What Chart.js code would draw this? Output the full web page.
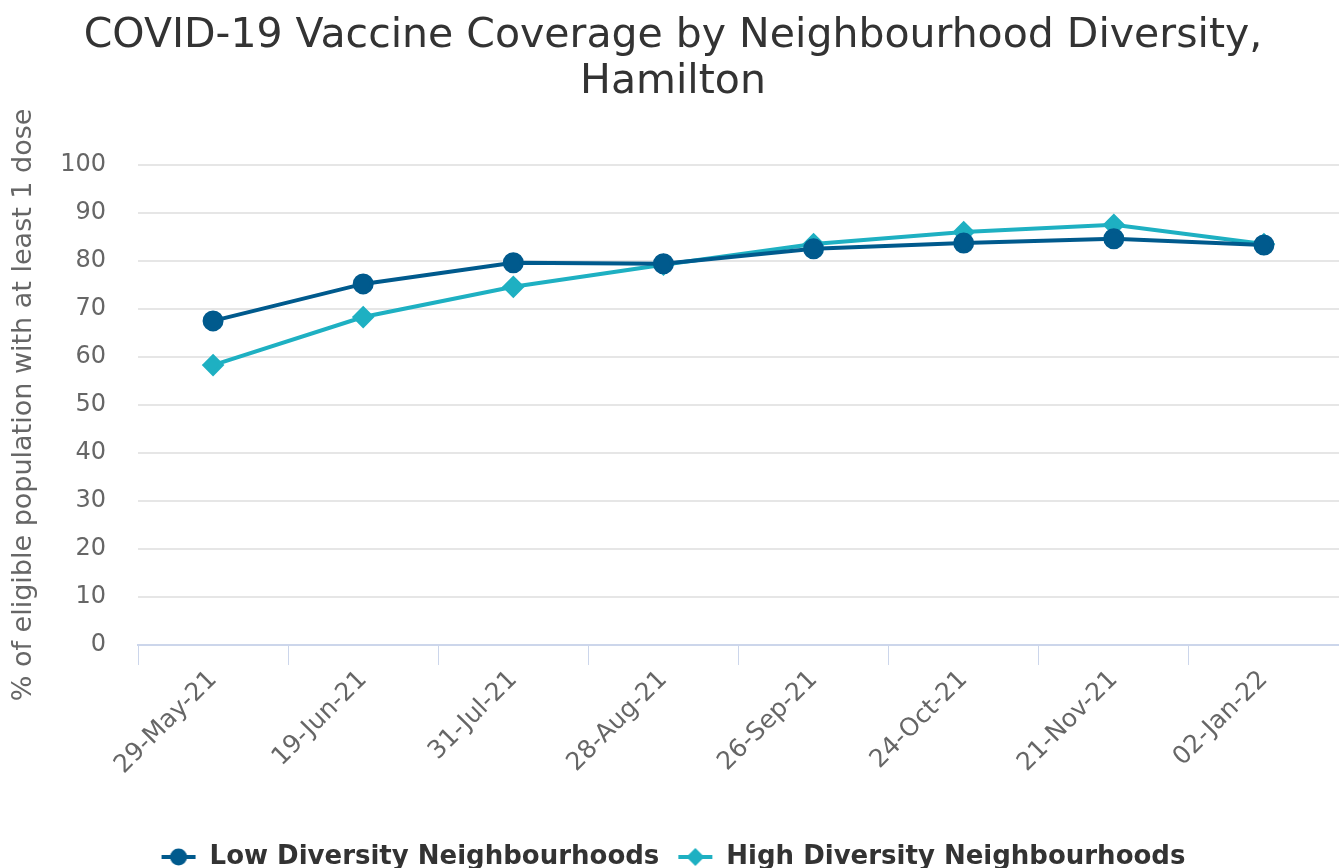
<!DOCTYPE html>
<html>
<head>
<meta charset="utf-8">
<script src="https://cdn.jsdelivr.net/npm/chart.js@4"></script>
<style>
  html, body { margin: 0; padding: 0; background: #fff; }
  #wrap { width: 1339px; height: 868px; }
</style>
</head>
<body>
<div id="wrap"><canvas id="vaccine-chart"></canvas></div>
<script>
var dates = ['29-May-21', '19-Jun-21', '31-Jul-21', '28-Aug-21', '26-Sep-21', '24-Oct-21', '21-Nov-21', '02-Jan-22'];
var lowDiversity = [67.5, 75.2, 79.6, 79.4, 82.5, 83.7, 84.6, 83.3];
var highDiversity = [58.3, 68.3, 74.6, 79.2, 83.5, 86.0, 87.5, 83.5];

var lowColor = '#005a8d';
var highColor = '#1eb0c2';
var fontFamily = 'DejaVu Sans';

// legend symbol: short line with the series marker on it
function legendSymbol(color, style) {
  var c = document.createElement('canvas');
  c.width = 36; c.height = 20;
  var g = c.getContext('2d');
  g.strokeStyle = color;
  g.fillStyle = color;
  g.lineWidth = 4;
  g.beginPath(); g.moveTo(1, 10); g.lineTo(35, 10); g.stroke();
  g.beginPath();
  if (style == 'circle') {
    g.arc(18, 10, 8.5, 0, Math.PI * 2);
  } else {
    g.moveTo(18, 1); g.lineTo(27, 10); g.lineTo(18, 19); g.lineTo(9, 10); g.closePath();
  }
  g.fill();
  return c;
}

var ctx = document.getElementById('vaccine-chart');
var chart = new Chart(ctx, {
  type: 'line',
  data: {
    labels: dates,
    datasets: [
      {
        label: 'Low Diversity Neighbourhoods',
        data: lowDiversity,
        borderColor: lowColor,
        backgroundColor: lowColor,
        borderWidth: 4,
        pointStyle: 'circle',
        pointRadius: 8.5,
        pointHoverRadius: 8.5,
        tension: 0
      },
      {
        label: 'High Diversity Neighbourhoods',
        data: highDiversity,
        borderColor: highColor,
        backgroundColor: highColor,
        borderWidth: 4,
        pointStyle: 'rectRot',
        pointRadius: 8.5,
        pointHoverRadius: 8.5,
        tension: 0
      }
    ]
  },
  options: {
    responsive: true,
    maintainAspectRatio: false,
    animation: false,
    layout: { autoPadding: false, padding: { left: 0, right: -7, top: 13, bottom: -12 } },
    plugins: {
      title: {
        display: true,
        text: ['COVID-19 Vaccine Coverage by Neighbourhood Diversity,', 'Hamilton'],
        color: '#333333',
        font: { family: fontFamily, size: 41, weight: 'normal', lineHeight: 1.12 },
        padding: { top: 0, bottom: 60 }
      },
      legend: {
        position: 'bottom',
        labels: {
          usePointStyle: true,
          pointStyleWidth: 36,
          color: '#333333',
          font: { family: fontFamily, size: 26, weight: 'bold' },
          padding: 18,
          generateLabels: function(chart) {
            var items = Chart.defaults.plugins.legend.labels.generateLabels(chart);
            items[0].pointStyle = legendSymbol(lowColor, 'circle');
            items[1].pointStyle = legendSymbol(highColor, 'diamond');
            return items;
          }
        }
      },
      tooltip: { enabled: false }
    },
    scales: {
      x: {
        offset: true,
        grid: {
          offset: true,
          drawOnChartArea: false,
          drawTicks: true,
          tickLength: 20,
          color: '#ccd6eb',
          lineWidth: 1
        },
        border: { color: '#ccd6eb', width: 2 },
        ticks: {
          color: '#666666',
          font: { family: fontFamily, size: 25 },
          minRotation: 45,
          maxRotation: 45,
          padding: 0
        },
        afterFit: function(scale) {
          scale.height = 181;
          scale.paddingRight = 0;
          scale.paddingLeft = 0;
        }
      },
      y: {
        min: 0,
        max: 100,
        ticks: {
          stepSize: 10,
          color: '#666666',
          font: { family: fontFamily, size: 24 },
          padding: 32
        },
        grid: { color: '#e6e6e6', lineWidth: 2, drawTicks: false },
        border: { display: false },
        title: {
          display: true,
          text: '% of eligible population with at least 1 dose',
          color: '#666666',
          font: { family: fontFamily, size: 27 },
          padding: { top: 8, bottom: 0 }
        },
        afterFit: function(scale) { scale.width = 138; }
      }
    }
  }
});
</script>
</body>
</html>
